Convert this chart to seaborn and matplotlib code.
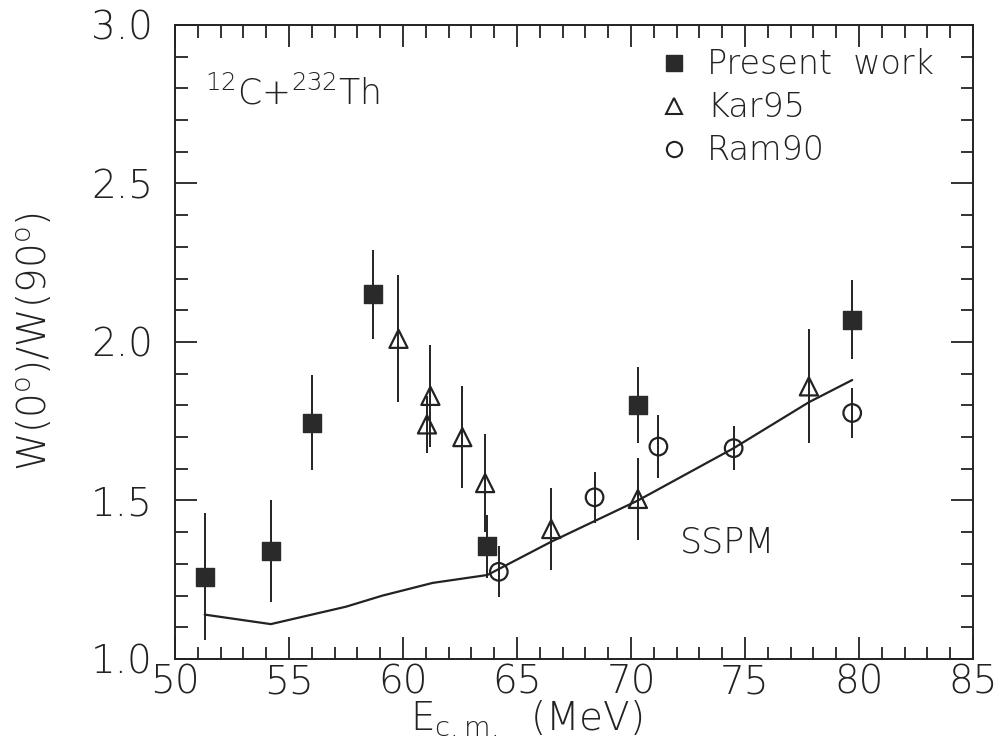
import matplotlib
matplotlib.use("Agg")
import matplotlib.pyplot as plt
from matplotlib.lines import Line2D
from matplotlib.ticker import MultipleLocator
import seaborn as sns
import pandas as pd

# Present work (filled squares)
present_e = [51.3, 54.2, 56.0, 58.7, 63.7, 70.3, 79.7]
present_r = [1.26, 1.34, 1.745, 2.15, 1.355, 1.80, 2.07]
present_err = [0.20, 0.16, 0.15, 0.14, 0.10, 0.12, 0.125]

# Kar95 (open triangles)
kar_e = [59.8, 61.05, 61.2, 62.6, 63.6, 66.5, 70.3, 77.8]
kar_r = [2.01, 1.74, 1.83, 1.70, 1.555, 1.41, 1.505, 1.86]
kar_err = [0.20, 0.09, 0.16, 0.16, 0.155, 0.13, 0.13, 0.18]

# Ram90 (open circles)
ram_e = [64.2, 68.4, 71.2, 74.5, 79.7]
ram_r = [1.275, 1.51, 1.67, 1.665, 1.776]
ram_err = [0.08, 0.08, 0.10, 0.07, 0.08]

# SSPM calculation
sspm_e = [51.3, 54.2, 57.5, 59.1, 61.3, 63.7, 66.5, 70.3, 74.5, 77.8, 79.7]
sspm_r = [1.14, 1.11, 1.165, 1.20, 1.24, 1.265, 1.37, 1.50, 1.665, 1.81, 1.88]

sns.set_theme(style="ticks")
plt.rcParams["font.family"] = ["DejaVu Sans"]
plt.rcParams["font.weight"] = "light"
plt.rcParams["axes.labelweight"] = "light"
plt.rcParams["mathtext.fontset"] = "custom"
plt.rcParams["mathtext.rm"] = "DejaVu Sans:light"
plt.rcParams["mathtext.it"] = "DejaVu Sans:italic:light"
plt.rcParams["mathtext.bf"] = "DejaVu Sans:bold"
plt.rcParams["mathtext.default"] = "regular"
plt.rcParams["axes.linewidth"] = 1.4

ink = "#222222"

fig = plt.figure(figsize=(9.98, 7.48), dpi=100)
ax = fig.add_axes([0.1754, 0.119, 0.7996, 0.8476])

sspm = pd.DataFrame({"E": sspm_e, "R": sspm_r})
sns.lineplot(data=sspm, x="E", y="R", color=ink, linewidth=1.6, ax=ax,
             sort=False, estimator=None)

errkw = dict(fmt="none", ecolor=ink, elinewidth=1.4, capsize=0, zorder=2)
ax.errorbar(present_e, present_r, yerr=present_err, **errkw)
ax.errorbar(kar_e, kar_r, yerr=kar_err, **errkw)
ax.errorbar(ram_e, ram_r, yerr=ram_err, **errkw)

sns.scatterplot(x=present_e, y=present_r, marker="s", s=150, color="#2a2a2a",
                edgecolor="#2a2a2a", linewidth=1, ax=ax, zorder=3)
sns.scatterplot(x=kar_e, y=kar_r, marker="^", s=170, color=ink,
                edgecolor=ink, linewidth=1.6, ax=ax, zorder=3)
ax.collections[-1].set_facecolor("none")
sns.scatterplot(x=ram_e, y=ram_r, marker="o", s=160, color=ink,
                edgecolor=ink, linewidth=1.6, ax=ax, zorder=3)
ax.collections[-1].set_facecolor("none")

ax.set_xlim(50, 85)
ax.set_ylim(1.0, 3.0)
ax.xaxis.set_major_locator(MultipleLocator(5))
ax.xaxis.set_minor_locator(MultipleLocator(1))
ax.yaxis.set_minor_locator(MultipleLocator(0.1))
ax.set_yticks([1.0, 1.5, 2.0, 2.5, 3.0])
ax.set_yticklabels(["1.0", "1.5", "2.0", "2.5", "3.0"])
ax.tick_params(which="both", direction="in", top=True, right=True,
               color=ink, width=1.3)
ax.tick_params(which="major", length=16, labelsize=28, labelcolor=ink)
ax.tick_params(axis="x", which="major", pad=3)
ax.tick_params(axis="y", which="major", pad=16)
ax.tick_params(which="minor", length=9)
for s in ax.spines.values():
    s.set_visible(True)
    s.set_color(ink)

ax.set_xlabel("E$_{c.m.}$  (MeV)", fontsize=28, color=ink, labelpad=0,
              fontweight="light")
ax.xaxis.set_label_coords(0.44, -0.062)
ax.set_ylabel("W(0$^{o}$)/W(90$^{o}$)", fontsize=28, color=ink,
              fontweight="light")
ax.yaxis.set_label_coords(-0.15, 0.5)

ax.text(51.3, 2.785, "$^{12}$C+$^{232}$Th", fontsize=25, color=ink,
        ha="left", va="center", fontweight="light")
ax.text(72.15, 1.366, "SSPM", fontsize=25, color=ink, ha="left", va="center",
        fontweight="light")

handles = [
    Line2D([], [], marker="s", linestyle="none", markersize=11,
           color="#2a2a2a", label="Present  work"),
    Line2D([], [], marker="^", linestyle="none", markersize=12,
           markerfacecolor="none", markeredgecolor=ink, markeredgewidth=1.5,
           label="Kar95"),
    Line2D([], [], marker="o", linestyle="none", markersize=11,
           markerfacecolor="none", markeredgecolor=ink, markeredgewidth=1.5,
           label="Ram90"),
]
leg = ax.legend(handles=handles, loc="upper left", bbox_to_anchor=(0.575, 1.0),
                frameon=False, fontsize=24, handlelength=1.0,
                handletextpad=0.5, labelspacing=0.3, borderaxespad=0.3)
for t in leg.get_texts():
    t.set_color(ink)

fig.savefig("out.png", dpi=100, facecolor="white")
